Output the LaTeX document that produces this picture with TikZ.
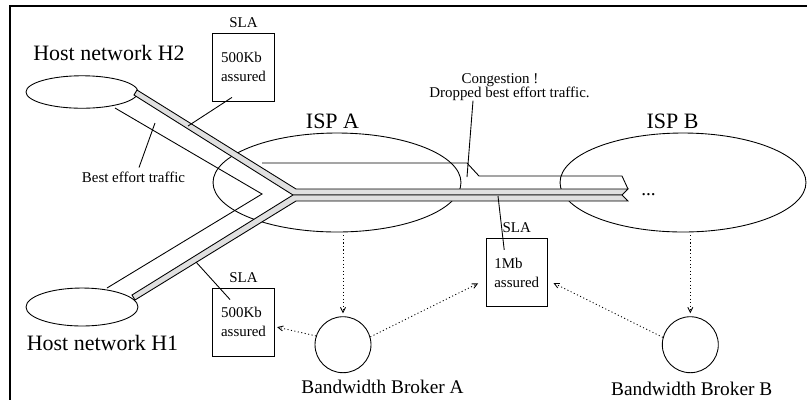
\documentclass[tikz,border=0pt]{standalone}
\usepackage{fontspec}
\setmainfont{Liberation Serif}
\usetikzlibrary{arrows.meta,positioning,shapes.geometric,calc}
\definecolor{bandgray}{HTML}{E0E0E0}
\newcommand\bigtxt{\fontsize{12.5}{15}\selectfont}
\newcommand\midtxt{\fontsize{11}{13}\selectfont}
\newcommand\smalltxt{\fontsize{8.5}{10.8}\selectfont}
\tikzset{
  net/.style={ellipse,draw,inner sep=0pt},
  broker/.style={circle,draw,minimum size=1.12cm,inner sep=0pt},
  slabox/.style={draw,minimum width=1.23cm,minimum height=1.35cm,inner sep=0pt,
    align=left,font=\smalltxt,
    label={[font=\smalltxt,inner sep=0pt,label distance=0.1cm]above:SLA}},
  band/.style={draw,fill=bandgray,line join=miter},
  bwlink/.style={dash pattern=on 0.6pt off 1.4pt,
    -{Straight Barb[length=0.1cm,width=0.1cm]}},
  tag/.style={inner sep=0pt,anchor=base},
}

\begin{document}
\begin{tikzpicture}[x=0.02cm,y=-0.02cm,line width=0.5pt]
  \useasboundingbox (0,0) rectangle (807,400);
  \draw[line width=1.3pt] (807,6.2) -| (10,400);

  \node[net,minimum width=2.24cm,minimum height=0.65cm] (h2) at (82,92) {};
  \node[net,minimum width=2.24cm,minimum height=0.76cm] (h1) at (82,307) {};
  \node[net,minimum width=4.96cm,minimum height=1.98cm] (ispA) at (337,182.5) {};
  \node[net,minimum width=4.92cm,minimum height=1.98cm] (ispB) at (683,182.5) {};

  \node[tag,font=\bigtxt] (h2txt) at (109,60) {Host network H2};
  \node[tag,font=\bigtxt] (h1txt) at (102.5,350) {Host network H1};
  \node[tag,font=\bigtxt] (ispAtxt) at (332.5,128) {ISP A};
  \node[tag,font=\bigtxt] (ispBtxt) at (672.5,128) {ISP B};

  % best effort pipe
  \draw (115,108) -- (262,194) -- (107,288);
  \draw (262,163) -- (467,163) -- (479,176) -- (622,176) -- (628,189);

  % assured pipes
  \draw[band] (137,90) -- (296,189) -- (628,189) -- (622,195) -- (293,195) -- (134,95) -- cycle;
  \draw[band] (132,295) -- (293,195) -- (622,195) -- (628,201) -- (296,201) -- (135,300) -- cycle;
  \node[tag,font=\midtxt] (more) at (648.5,195) {...};

  \node[slabox] (slaH2) at (243.5,67.2) {500Kb\\assured};
  \node[slabox] (slaH1) at (243.5,322.2) {500Kb\\assured};
  \node[slabox,minimum height=1.37cm] (slaMid) at (516.7,272.5) {1Mb\\assured};

  \node[broker] (bbA) at (343,344.7) {};
  \node[broker] (bbB) at (690.3,344.7) {};
  \node[tag,font=\midtxt] (bbAtxt) at (382.5,393.3) {Bandwidth Broker A};
  \node[tag,font=\midtxt] (bbBtxt) at (691.7,395) {Bandwidth Broker B};

  \node[tag,font=\smalltxt] (betxt) at (133.5,182.7) {Best effort traffic};
  \node[tag,font=\smalltxt] (congA) at (500,83) {Congestion !};
  \node[tag,font=\smalltxt] (congB) at (509.5,97) {Dropped best effort traffic.};

  \coordinate (bePt) at (155,123);
  \coordinate (congPt) at (467,177);
  \coordinate (slaH2pt) at (188,126);
  \coordinate (slaH1pt) at (196,262);
  \coordinate (slaMidpt) at (498,196);
  \draw ([xshift=0.11cm,yshift=0.084cm]betxt.north) -- (bePt);
  \draw ([xshift=-0.73cm]congB.south) -- (congPt);
  \draw ([xshift=-0.23cm,yshift=0.08cm]slaH2.south) -- (slaH2pt);
  \draw ([xshift=-0.27cm,yshift=-0.23cm]slaH1.north) -- (slaH1pt);
  \draw ([xshift=-0.25cm,yshift=-0.24cm]slaMid.north) -- (slaMidpt);

  \draw[bwlink,shorten <=0.06cm,shorten >=0.06cm] (bbA.north |- ispA.south) -- (bbA.north);
  \draw[bwlink,shorten <=0.06cm,shorten >=0.06cm] (bbB.north |- ispB.south) -- (bbB.north);
  \draw[bwlink,shorten >=0.05cm] (bbA.162) -- (slaH1.-8);
  \draw[bwlink,shorten >=0.166cm] (bbA.16) -- (slaMid.193);
  \draw[bwlink,shorten >=0.125cm] (bbB.165) -- (slaMid.-14);
\end{tikzpicture}
\end{document}
